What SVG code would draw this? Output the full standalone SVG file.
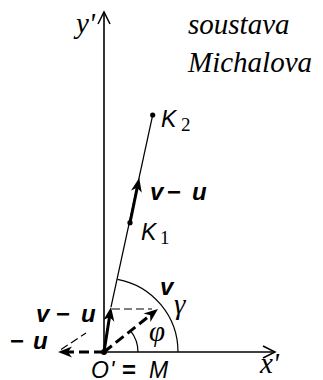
<svg xmlns="http://www.w3.org/2000/svg" width="323" height="380" viewBox="0 0 323 380">
<style>
.axis{stroke:#000;stroke-width:1.6;fill:none}
.thin{stroke:#000;stroke-width:1.2;fill:none}
.thick{stroke:#000;stroke-width:3;fill:none}
.dthick{stroke:#000;stroke-width:3;fill:none;stroke-dasharray:10 5}
.dthin{stroke:#000;stroke-width:1.2;fill:none;stroke-dasharray:8 4}
.serif{font-family:"Liberation Serif","Times New Roman",serif;font-style:italic;font-size:29px}
.sans{font-family:"Liberation Sans",Arial,sans-serif;font-style:italic;font-size:23px}
.vec{font-family:"Liberation Sans",Arial,sans-serif;font-style:italic;font-weight:bold;font-size:24px}
.op{font-family:"Liberation Sans",Arial,sans-serif;font-weight:bold;font-size:24px}
.sub{font-family:"Liberation Serif","Times New Roman",serif;font-size:19px}
</style>
<defs>
<marker id="open" markerUnits="userSpaceOnUse" markerWidth="30" markerHeight="30" refX="0" refY="0" orient="auto" overflow="visible">
<path d="M-12,-6 L0,0 L-12,6" fill="none" stroke="#000" stroke-width="1.5"/>
</marker>
<marker id="head" markerUnits="userSpaceOnUse" markerWidth="30" markerHeight="30" refX="0" refY="0" orient="auto" overflow="visible">
<path d="M8,0 L-6,-5.5 L-2,0 L-6,5.5 Z" fill="#000"/>
</marker>
</defs>
<g id="connectors">
<line class="axis" x1="104" y1="352" x2="104" y2="12" marker-end="url(#open)"/>
<line class="axis" x1="104" y1="352" x2="275" y2="352" marker-end="url(#open)"/>
<line class="thin" x1="111" y1="307" x2="152.7" y2="115"/>
<path class="thin" d="M178,352 A74,74 0 0,0 117.5,279.3"/>
<path class="thin" d="M138,352 A34,34 0 0,0 130.6,330.8"/>
<line class="dthin" x1="112" y1="309" x2="152" y2="309"/>
<line class="dthin" x1="61" y1="349.5" x2="86" y2="333" stroke-dasharray="7 6"/>
<line class="thick" x1="104" y1="352" x2="109.8" y2="314.9" marker-end="url(#head)"/>
<line class="dthick" x1="104" y1="352" x2="151.7" y2="314" marker-end="url(#head)"/>
<line class="dthick" x1="104" y1="352" x2="66" y2="352" marker-end="url(#head)"/>
<line class="thick" x1="130" y1="222.7" x2="137.6" y2="185.8" marker-end="url(#head)"/>
</g>
<g id="origin">
<circle cx="104" cy="352" r="3"/>
<text class="sans" x="91" y="378">O</text><text class="sans" x="110" y="378">'</text><text class="op" x="122" y="378" font-weight="normal">=</text><text class="sans" x="149" y="378">M</text>
</g>
<g id="K2">
<circle cx="152.7" cy="115" r="2.6"/>
<text class="sans" x="161" y="127">K</text><text class="sub" x="181" y="131">2</text>
</g>
<g id="K1">
<circle cx="130" cy="222.7" r="2.6"/>
<text class="sans" x="141" y="240">K</text><text class="sub" x="160" y="244">1</text>
</g>
<g id="serif-labels">
<text class="serif" x="76" y="33">y'</text>
<text class="serif" x="260" y="373">x'</text>
<text class="serif" x="188" y="34">soustava</text>
<text class="serif" x="188" y="72">Michalova</text>
<text class="serif" x="149" y="341">φ</text>
<text class="serif" x="174" y="314">γ</text>
</g>
<g id="vector-labels">
<text class="vec" x="160" y="295">v</text>
<text class="vec" x="150" y="200">v</text><text class="op" x="167" y="200">−</text><text class="vec" x="192" y="200">u</text>
<text class="vec" x="36" y="322">v</text><text class="op" x="56" y="322">−</text><text class="vec" x="81" y="322">u</text>
<text class="op" x="10" y="349">−</text><text class="vec" x="33" y="349">u</text>
</g>
</svg>
